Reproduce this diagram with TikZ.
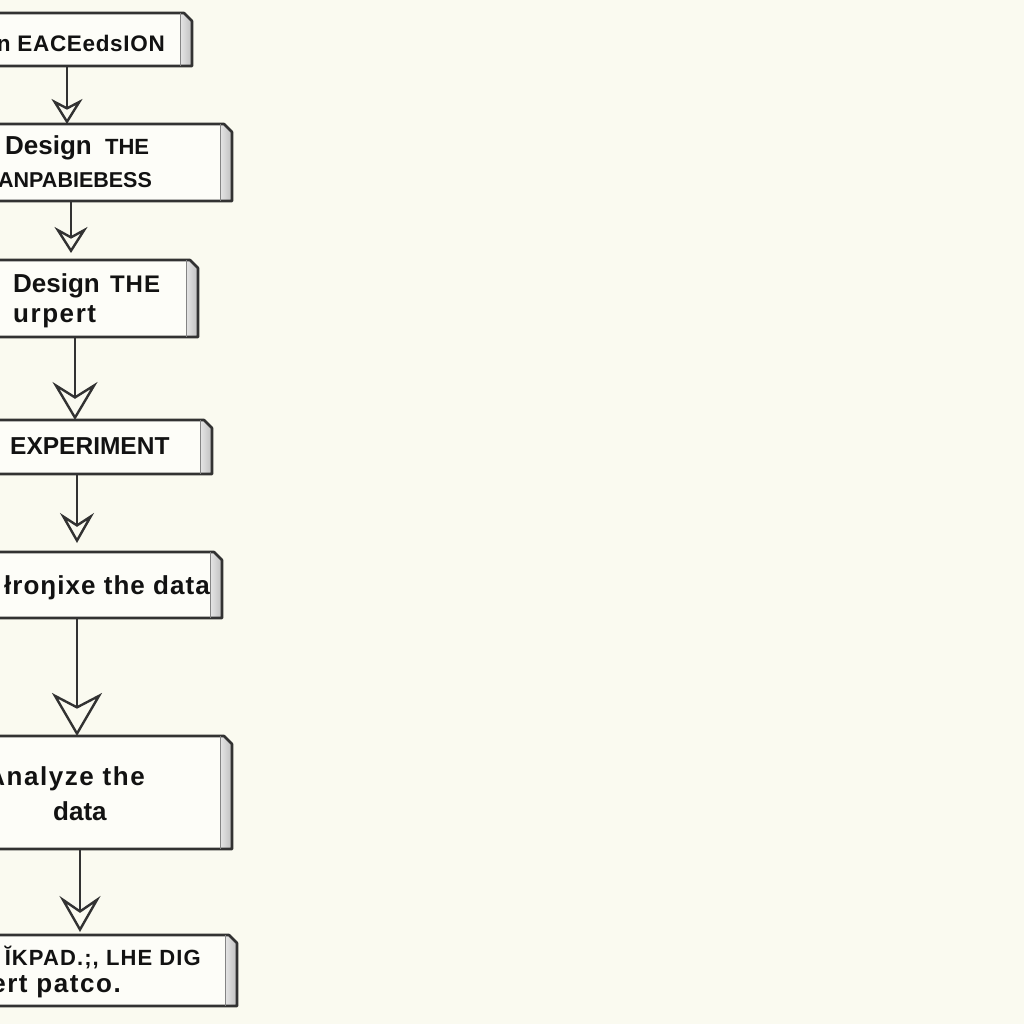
\documentclass[tikz,border=0pt]{standalone}
\usepackage{fontspec}
\setmainfont{Liberation Sans}
\usetikzlibrary{arrows.meta}
\definecolor{bg}{RGB}{250,250,240}
\definecolor{boxfill}{RGB}{253,253,248}
\definecolor{edge}{RGB}{50,50,50}
\definecolor{ink}{RGB}{18,18,18}
\newcommand\smc[2][22]{{\fontsize{#1}{#1}\selectfont #2}}
\newcommand\bevelbox[1]{%
  \fill[boxfill] (#1.south west) -- (#1.north west) -- ([xshift=-8pt]#1.north east)
     -- ([yshift=-8pt]#1.north east) -- (#1.south east) -- cycle;
  \shade[left color=gray!20, right color=gray!50]
     ([xshift=-12pt]#1.north east) -- ([xshift=-8pt]#1.north east)
     -- ([yshift=-8pt]#1.north east) -- (#1.south east) -- ([xshift=-12pt]#1.south east) -- cycle;
  \draw[edge, line width=2.6pt, line join=round] (#1.south west) -- (#1.north west) -- ([xshift=-8pt]#1.north east)
     -- ([yshift=-8pt]#1.north east) -- (#1.south east) -- cycle;
  \draw[edge!60, line width=0.8pt] ([xshift=-12pt]#1.north east) -- ([xshift=-12pt]#1.south east);
}
\tikzset{
  boxnode/.style={rectangle, draw=none, inner sep=0pt, outer sep=0pt, anchor=north east},
  txt/.style={inner sep=0pt, anchor=base west, text=ink, font=\bfseries\fontsize{26}{30}\selectfont},
  arr/.style args={#1/#2/#3}{draw=edge, line width=2.6pt,
     -{Stealth[open, length=#1pt, width=#2pt, inset=#3pt, line width=2.4pt]}}
}
\begin{document}
\begin{tikzpicture}[x=1pt,y=-1pt]
\useasboundingbox (0,0) rectangle (1024,1024);
\clip (0,0) rectangle (1024,1024);
\fill[bg] (0,0) rectangle (1024,1024);

% boxes
\node[boxnode, minimum width=260pt, minimum height=53pt]  (b1) at (192,13)  {};
\node[boxnode, minimum width=280pt, minimum height=77pt]  (b2) at (232,124) {};
\node[boxnode, minimum width=250pt, minimum height=77pt]  (b3) at (198,260) {};
\node[boxnode, minimum width=260pt, minimum height=54pt]  (b4) at (212,420) {};
\node[boxnode, minimum width=270pt, minimum height=66pt]  (b5) at (222,552) {};
\node[boxnode, minimum width=280pt, minimum height=113pt] (b6) at (232,736) {};
\node[boxnode, minimum width=290pt, minimum height=71pt]  (b7) at (237,935) {};
\bevelbox{b1}\bevelbox{b2}\bevelbox{b3}\bevelbox{b4}\bevelbox{b5}\bevelbox{b6}\bevelbox{b7}

% texts
\node[txt, anchor=base east, font=\bfseries\fontsize{22.5}{24}\selectfont\addfontfeature{LetterSpace=3}] (t1) at (165,52) {n EACEedsION};
\node[txt] (t2a) at (5,155) {Design\hspace{6pt} \smc{THE}};
\node[txt, font=\bfseries\fontsize{21.5}{24}\selectfont] (t2b) at (-2,188) {ANPABIEBESS};
\node[txt] (t3a) at (13,292) {Design\hspace{3pt} \smc[24]{\addfontfeature{LetterSpace=4}THE}};
\node[txt, font=\bfseries\fontsize{26}{30}\selectfont\addfontfeature{LetterSpace=6}] (t3b) at (13,322) {urpert};
\node[txt, font=\bfseries\fontsize{24.5}{26}\selectfont] (t4) at (10,454) {EXPERIMENT};
\node[txt, anchor=base east, font=\bfseries\fontsize{26}{30}\selectfont\addfontfeature{LetterSpace=4}] (t5) at (210,594) {łroŋixe the data};
\node[txt, anchor=base east, font=\bfseries\fontsize{26}{30}\selectfont\addfontfeature{LetterSpace=6}] (t6a) at (145,785) {Analyze the};
\node[txt] (t6b) at (53,820) {data};
\node[txt, font=\bfseries\fontsize{22}{24}\selectfont\addfontfeature{LetterSpace=5}, anchor=base east] (t7a) at (201,965) {ĬKPAD.;, LHE DIG};
\node[txt, font=\bfseries\fontsize{26}{30}\selectfont\addfontfeature{LetterSpace=6}, anchor=base east] (t7b) at (121,992) {Expert patco.};

% connector x positions
\coordinate (c1) at (67,0);
\coordinate (c2) at (71,0);
\coordinate (c3) at (75,0);
\coordinate (c4) at (77,0);
\coordinate (c5) at (77,0);
\coordinate (c6) at (80,0);

\draw[arr=25/31/8]  (b1.south -| c1) -- (b2.north -| c1);
\draw[arr=26/33/9, shorten >=7pt]  (b2.south -| c2) -- (b3.north -| c2);
\draw[arr=38/45/14] (b3.south -| c3) -- (b4.north -| c3);
\draw[arr=30/34/11, shorten >=9pt] (b4.south -| c4) -- (b5.north -| c4);
\draw[arr=43/50/13] (b5.south -| c5) -- (b6.north -| c5);
\draw[arr=36/41/14, shorten >=3pt] (b6.south -| c6) -- (b7.north -| c6);
\end{tikzpicture}
\end{document}
